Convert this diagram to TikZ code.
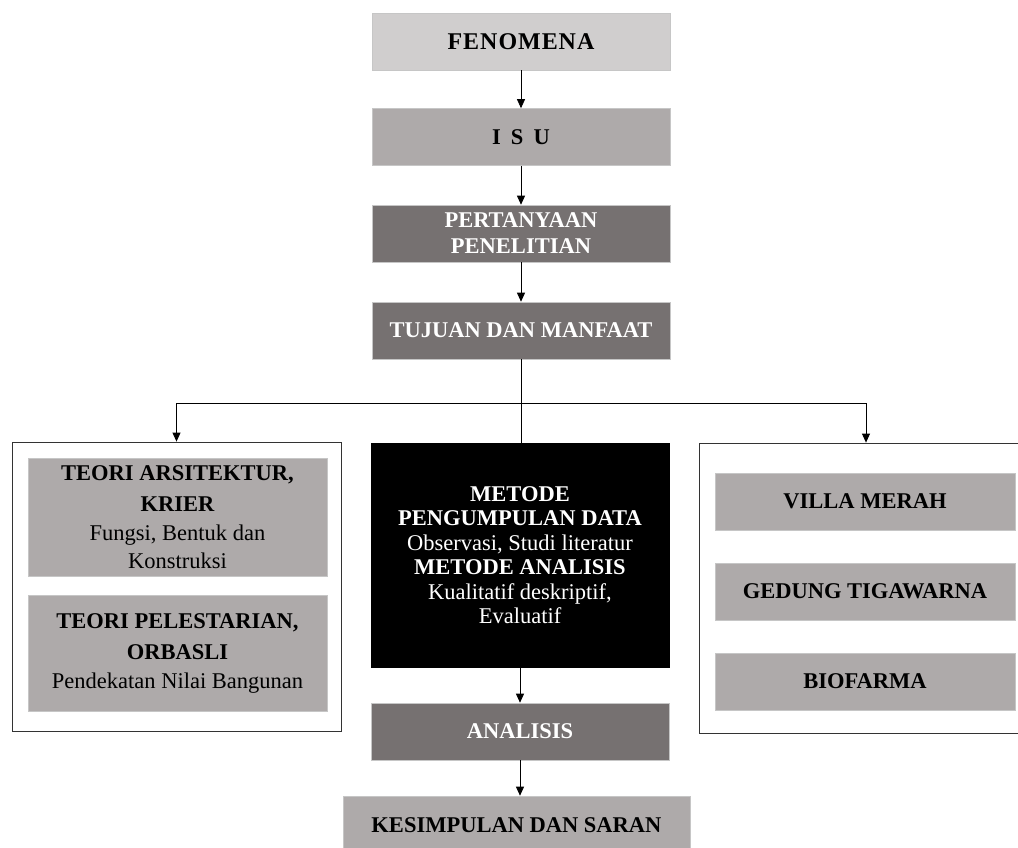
\documentclass[tikz,border=0pt]{standalone}
\usepackage{fontspec}
\setmainfont{Liberation Serif}
\usepackage{tikz}
\usetikzlibrary{arrows.meta, positioning, calc}
\definecolor{boxlight}{HTML}{D0CECE}
\definecolor{boxmid}{HTML}{AEAAAA}
\definecolor{boxdark}{HTML}{767171}
\tikzset{
  flowbox/.style={rectangle, draw=gray!45, line width=0.6pt, minimum width=298pt, minimum height=57pt, align=center, inner sep=2pt, font=\fontsize{22.5}{26}\selectfont\bfseries},
  lightbox/.style={flowbox, fill=boxlight},
  midbox/.style={flowbox, fill=boxmid},
  darkbox/.style={flowbox, fill=boxdark, text=white},
  groupbox/.style={rectangle, draw=black!80, line width=0.8pt, fill=white},
  flowline/.style={line width=0.8pt},
  flowarrow/.style={flowline, -{Triangle[length=9pt,width=8pt]}}
}

\begin{document}
\begin{tikzpicture}[x=1pt, y=-1pt]
  \useasboundingbox (0,0) rectangle (1018,848);

  % Main column
  \node[lightbox, font=\fontsize{24}{28}\selectfont\bfseries\addfontfeatures{LetterSpace=4}] (fen) at (521,41.5) {FENOMENA};
  \node[midbox] (isu) at (521,137) {I\hspace{0.45em}S\hspace{0.45em}U};
  \node[darkbox] (pert) at (521,233.5) {PERTANYAAN\\PENELITIAN};
  \node[darkbox] (tuj) at (521,330.5) {TUJUAN DAN MANFAAT};

  % Theory group (left)
  \node[groupbox, minimum width=329pt, minimum height=289pt] (left) at (176.5,586.5) {};
  \node[midbox, minimum width=299pt, minimum height=118pt, font=\fontsize{22.5}{28.5}\selectfont\bfseries] (teo1) at (177.5,517)
    {TEORI ARSITEKTUR,\\[3pt]KRIER\\{\mdseries Fungsi, Bentuk dan}\\{\mdseries Konstruksi}};
  \node[midbox, minimum width=299pt, minimum height=116pt, font=\fontsize{22.5}{28.5}\selectfont\bfseries] (teo2) at (177.5,653)
    {TEORI PELESTARIAN,\\[3pt]ORBASLI\\{\mdseries Pendekatan Nilai Bangunan}};

  % Method block (centre)
  \node[flowbox, fill=black, draw=black, text=white, minimum height=224pt, font=\fontsize{22.5}{24.5}\selectfont\bfseries] (metode) at (520,555)
    {METODE\\PENGUMPULAN DATA\\{\mdseries Observasi, Studi literatur}\\METODE ANALISIS\\{\mdseries Kualitatif deskriptif,}\\{\mdseries Evaluatif}};
  \node[darkbox] (analisis) at (520,731.5) {ANALISIS};
  \node[midbox, minimum width=347pt, minimum height=58pt] (kes) at (516.5,825) {KESIMPULAN DAN SARAN};

  % Object group (right)
  \node[groupbox, minimum width=334pt, minimum height=290pt] (right) at (866,588) {};
  \node[midbox, minimum width=300pt] (villa) at (865,501.5) {VILLA MERAH};
  \node[midbox, minimum width=300pt] (gedung) at (865,591.5) {GEDUNG TIGAWARNA};
  \node[midbox, minimum width=300pt] (bio) at (865,681.5) {BIOFARMA};

  % Connectors
  \draw[flowarrow] (fen) -- (isu);
  \draw[flowarrow] (isu) -- (pert);
  \draw[flowarrow] (pert) -- (tuj);

  \coordinate (split) at ($(tuj.south)+(0,44)$);
  \coordinate (splitL) at (split -| left.north);
  \coordinate (splitR) at (split -| right.north);
  \draw[flowline] (tuj.south) -- (tuj.south |- metode.north);
  \draw[flowline] (splitL) -- (splitR);
  \draw[flowarrow] (splitL) -- (left.north);
  \draw[flowarrow] (splitR) -- (right.north);

  \draw[flowarrow] (metode.south) -- (analisis.north);
  \draw[flowarrow] (analisis.south) -- (analisis.south |- kes.north);
\end{tikzpicture}
\end{document}
